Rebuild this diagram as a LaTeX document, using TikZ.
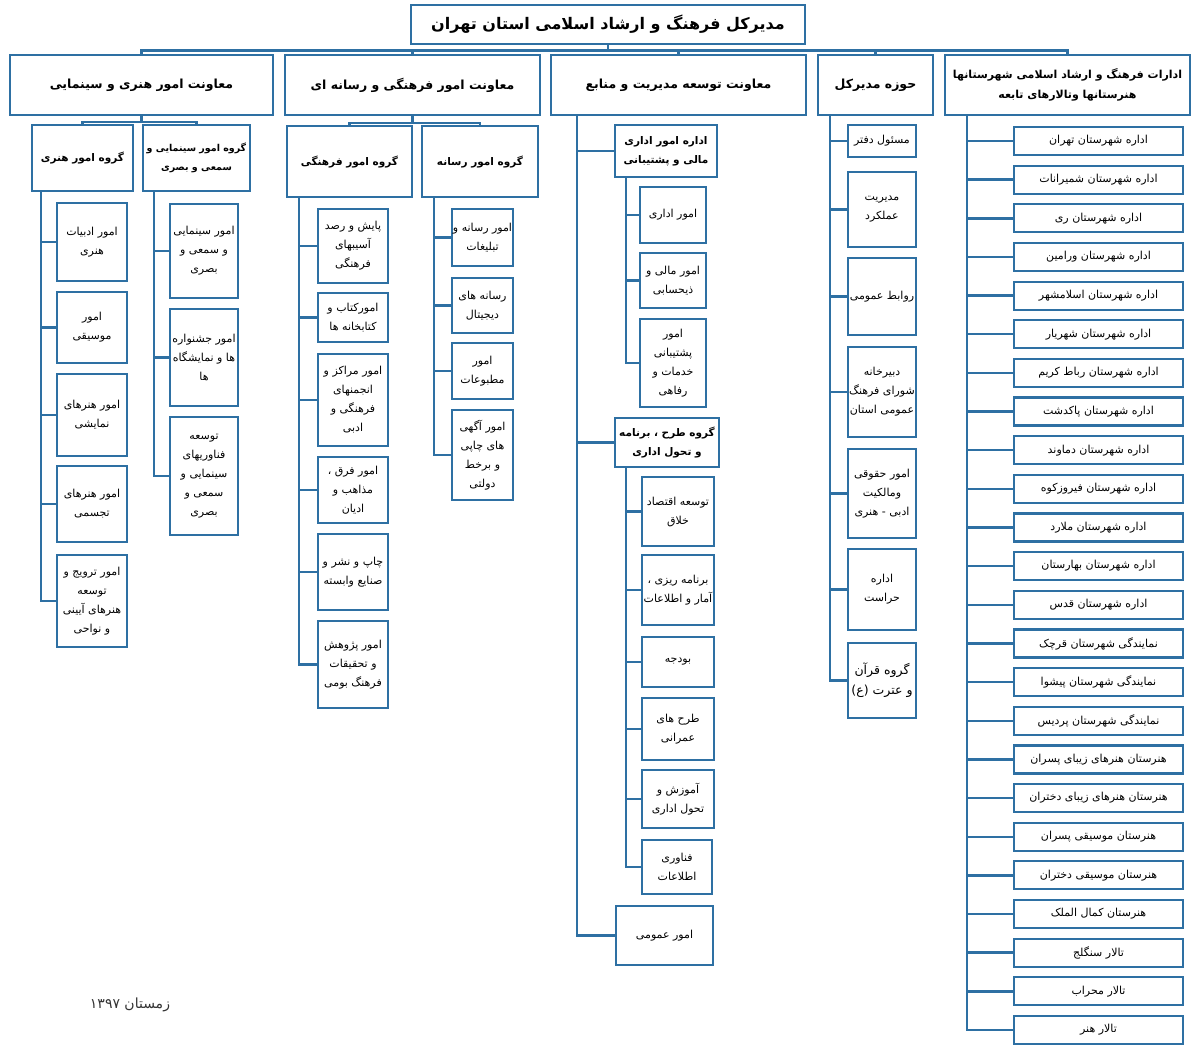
\documentclass[tikz,border=0pt]{standalone}
\usepackage{fontspec}
\newfontfamily\arabicfont[Script=Arabic]{DejaVu Sans}
\TeXXeTstate=1
\newcommand{\fa}[1]{\beginR #1\endR}
\definecolor{chartblue}{RGB}{46,112,163}

\begin{document}
\begin{tikzpicture}[x=1pt,y=-1pt,
    box/.style={draw=chartblue, line width=2.2pt, fill=white, inner sep=1pt, align=center,
                font=\arabicfont\fontsize{11}{19}\selectfont},
    head/.style={box, font=\arabicfont\bfseries\fontsize{12.5}{20}\selectfont},
    grp/.style={box, font=\arabicfont\bfseries\fontsize{10.5}{19}\selectfont},
    wh/.style 2 args={minimum width=#1pt, minimum height=#2pt},
    link/.style={draw=chartblue, line width=2.4pt}]
\useasboundingbox (0,0) rectangle (1193,1045);

% top of the chart
\node[box, wh={394}{39}, font=\arabicfont\bfseries\fontsize{16}{22}\selectfont] (title) at (608,24.5)
    {\fa{مدیرکل فرهنگ و ارشاد اسلامی استان تهران}};
\node[head, wh={263}{60}] (hsec) at (141.5,85) {\fa{معاونت امور هنری و سینمایی}};
\node[head, wh={255}{60}] (frsec) at (412.5,85) {\fa{معاونت امور فرهنگی و رسانه ای}};
\node[head, wh={255}{60}] (tmsec) at (678.5,85) {\fa{معاونت توسعه مدیریت و منابع}};
\node[head, wh={115}{60}] (hmdk) at (875.5,85) {\fa{حوزه مدیرکل}};
\node[head, wh={245}{60}, font=\arabicfont\bfseries\fontsize{11}{20}\selectfont] (edsec) at (1067.5,85)
    {\fa{ادارات فرهنگ و ارشاد اسلامی شهرستانها}\\\fa{هنرستانها وتالارهای تابعه}};
\foreach \t in {hsec,frsec,tmsec,hmdk,edsec}
    \draw[link] (title.south) -- ++(0,5.5) -| (\t.north);

% honari va cinemayi
\node[grp, wh={101}{66}] (ghonari) at (82.5,158) {\fa{گروه امور هنری}};
\node[grp, wh={107}{66}, font=\arabicfont\bfseries\fontsize{9.5}{19}\selectfont] (gcinema) at (196.5,158)
    {\fa{گروه امور سینمایی و}\\\fa{سمعی و بصری}};
\node[box, wh={70}{78}] (h1) at (92,242) {\fa{امور ادبیات}\\\fa{هنری}};
\node[box, wh={70}{71}] (h2) at (92,327.5) {\fa{امور}\\\fa{موسیقی}};
\node[box, wh={70}{82}] (h3) at (92,415) {\fa{امور هنرهای}\\\fa{نمایشی}};
\node[box, wh={70}{76}] (h4) at (92,504) {\fa{امور هنرهای}\\\fa{تجسمی}};
\node[box, wh={70}{92}] (h5) at (92,601) {\fa{امور ترویج و}\\\fa{توسعه}\\\fa{هنرهای آیینی}\\\fa{و نواحی}};
\node[box, wh={68}{94}] (c1) at (204,251) {\fa{امور سینمایی}\\\fa{و سمعی و}\\\fa{بصری}};
\node[box, wh={68}{97}] (c2) at (204,357.5) {\fa{امور جشنواره}\\\fa{ها و نمایشگاه}\\\fa{ها}};
\node[box, wh={68}{118}] (c3) at (204,476) {\fa{توسعه}\\\fa{فناوریهای}\\\fa{سینمایی و}\\\fa{سمعی و}\\\fa{بصری}};
\foreach \g in {ghonari,gcinema}
    \draw[link] (hsec.south) -- ++(0,6) -| (\g.north);
\foreach \c in {h1,h2,h3,h4,h5}
    \draw[link] ([xshift=10pt]ghonari.south west) |- (\c.west);
\foreach \c in {c1,c2,c3}
    \draw[link] ([xshift=12pt]gcinema.south west) |- (\c.west);

% farhangi va rasane
\node[grp, wh={125}{71}] (gfarhangi) at (349.5,161.5) {\fa{گروه امور فرهنگی}};
\node[grp, wh={116}{71}] (grasaneh) at (480,161.5) {\fa{گروه امور رسانه}};
\node[box, wh={70}{74}] (f1) at (353,246) {\fa{پایش و رصد}\\\fa{آسیبهای}\\\fa{فرهنگی}};
\node[box, wh={70}{49}] (f2) at (353,317.5) {\fa{امورکتاب و}\\\fa{کتابخانه ها}};
\node[box, wh={70}{92}] (f3) at (353,400) {\fa{امور مراکز و}\\\fa{انجمنهای}\\\fa{فرهنگی و}\\\fa{ادبی}};
\node[box, wh={70}{66}] (f4) at (353,490) {\fa{امور فرق ،}\\\fa{مذاهب و}\\\fa{ادیان}};
\node[box, wh={70}{76}] (f5) at (353,572) {\fa{چاپ و نشر و}\\\fa{صنایع وابسته}};
\node[box, wh={70}{87}] (f6) at (353,664.5) {\fa{امور پژوهش}\\\fa{و تحقیقات}\\\fa{فرهنگ بومی}};
\node[box, wh={61}{57}] (r1) at (482.5,237.5) {\fa{امور رسانه و}\\\fa{تبلیغات}};
\node[box, wh={61}{55}] (r2) at (482.5,305.5) {\fa{رسانه های}\\\fa{دیجیتال}};
\node[box, wh={61}{56}] (r3) at (482.5,371) {\fa{امور}\\\fa{مطبوعات}};
\node[box, wh={61}{90}] (r4) at (482.5,455) {\fa{امور آگهی}\\\fa{های چاپی}\\\fa{و برخط}\\\fa{دولتی}};
\foreach \g in {gfarhangi,grasaneh}
    \draw[link] (frsec.south) -- ++(0,7) -| (\g.north);
\foreach \c in {f1,f2,f3,f4,f5,f6}
    \draw[link] ([xshift=13pt]gfarhangi.south west) |- (\c.west);
\foreach \c in {r1,r2,r3,r4}
    \draw[link] ([xshift=13pt]grasaneh.south west) |- (\c.west);

% tose-e modiriat va manabe
\node[grp, wh={102}{52}] (eadari) at (666,151) {\fa{اداره امور اداری}\\\fa{مالی و پشتیبانی}};
\node[box, wh={66}{56}] (e1) at (673,215) {\fa{امور اداری}};
\node[box, wh={66}{55}] (e2) at (673,280.5) {\fa{امور مالی و}\\\fa{ذیحسابی}};
\node[box, wh={66}{88}] (e3) at (673,363) {\fa{امور}\\\fa{پشتیبانی}\\\fa{خدمات و}\\\fa{رفاهی}};
\node[grp, wh={104}{49}] (gtarh) at (667,442.5) {\fa{گروه طرح ، برنامه}\\\fa{و تحول اداری}};
\node[box, wh={72}{69}] (t1) at (678,511.5) {\fa{توسعه اقتصاد}\\\fa{خلاق}};
\node[box, wh={72}{70}] (t2) at (678,590) {\fa{برنامه ریزی ،}\\\fa{آمار و اطلاعات}};
\node[box, wh={72}{50}] (t3) at (678,662) {\fa{بودجه}};
\node[box, wh={72}{62}] (t4) at (678,729) {\fa{طرح های}\\\fa{عمرانی}};
\node[box, wh={72}{58}] (t5) at (678,799) {\fa{آموزش و}\\\fa{تحول اداری}};
\node[box, wh={70}{54}] (t6) at (677,867) {\fa{فناوری}\\\fa{اطلاعات}};
\node[box, wh={97}{59}] (omoomi) at (664.5,935.5) {\fa{امور عمومی}};
\foreach \c in {eadari,gtarh,omoomi}
    \draw[link] ([xshift=27pt]tmsec.south west) |- (\c.west);
\foreach \c in {e1,e2,e3}
    \draw[link] ([xshift=12pt]eadari.south west) |- (\c.west);
\foreach \c in {t1,t2,t3,t4,t5,t6}
    \draw[link] ([xshift=12pt]gtarh.south west) |- (\c.west);

% hoze-ye modirkol
\node[box, wh={68}{32}] (m1) at (882,141) {\fa{مسئول دفتر}};
\node[box, wh={68}{75}] (m2) at (882,209.5) {\fa{مدیریت}\\\fa{عملکرد}};
\node[box, wh={68}{77}] (m3) at (882,296.5) {\fa{روابط عمومی}};
\node[box, wh={68}{90}] (m4) at (882,392) {\fa{دبیرخانه}\\\fa{شورای فرهنگ}\\\fa{عمومی استان}};
\node[box, wh={68}{89}] (m5) at (882,493.5) {\fa{امور حقوقی}\\\fa{ومالکیت}\\\fa{ادبی - هنری}};
\node[box, wh={68}{81}] (m6) at (882,589.5) {\fa{اداره}\\\fa{حراست}};
\node[box, wh={68}{75}, font=\arabicfont\fontsize{12.5}{20}\selectfont] (m7) at (882,680.5)
    {\fa{گروه قرآن}\\\fa{و عترت (ع)}};
\foreach \c in {m1,m2,m3,m4,m5,m6,m7}
    \draw[link] ([xshift=13pt]hmdk.south west) |- (\c.west);

% edarat-e shahrestanha
\foreach \txt [count=\i from 0] in {اداره شهرستان تهران, اداره شهرستان شمیرانات, اداره شهرستان ری,
    اداره شهرستان ورامین, اداره شهرستان اسلامشهر, اداره شهرستان شهریار, اداره شهرستان رباط کریم,
    اداره شهرستان پاکدشت, اداره شهرستان دماوند, اداره شهرستان فیروزکوه, اداره شهرستان ملارد,
    اداره شهرستان بهارستان, اداره شهرستان قدس, نمایندگی شهرستان قرچک, نمایندگی شهرستان پیشوا,
    نمایندگی شهرستان پردیس, هنرستان هنرهای زیبای پسران, هنرستان هنرهای زیبای دختران,
    هنرستان موسیقی پسران, هنرستان موسیقی دختران, هنرستان کمال الملک, تالار سنگلج,
    تالار محراب, تالار هنر}
{
    \node[box, wh={169}{28}] (o\i) at (1098.5,141+38.65*\i) {\fa{\txt}};
    \draw[link] ([xshift=23pt]edsec.south west) |- (o\i.west);
}

\node[font=\arabicfont\fontsize{14}{16}\selectfont, text=black!80] (date) at (130,1005) {\fa{زمستان ۱۳۹۷}};
\end{tikzpicture}
\end{document}
